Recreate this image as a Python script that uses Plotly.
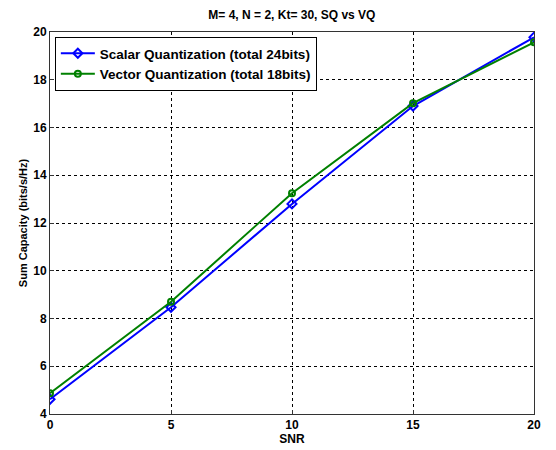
import plotly.graph_objects as go

snr = [0, 5, 10, 15, 20]
sq = [4.62, 8.47, 12.8, 16.9, 19.78]
vq = [4.87, 8.7, 13.25, 17.02, 19.57]
xticks = [0, 5, 10, 15, 20]
yticks = [4, 6, 8, 10, 12, 14, 16, 18, 20]

fam = "Liberation Sans, Arial, sans-serif"
font = dict(family=fam, size=11, color="black")

fig = go.Figure()
fig.add_trace(go.Scatter(x=snr, y=sq, mode="lines+markers",
                         name="<b>Scalar Quantization (total 24bits)</b>",
                         line=dict(color="#0000ff", width=2),
                         marker=dict(symbol="diamond-open", size=7, color="#0000ff", line=dict(width=2))))
fig.add_trace(go.Scatter(x=snr, y=vq, mode="lines+markers",
                         name="<b>Vector Quantization (total 18bits)</b>",
                         line=dict(color="#008000", width=2),
                         marker=dict(symbol="circle-open", size=6, color="#008000", line=dict(width=2))))

axis_common = dict(showline=True, linecolor="#333333", linewidth=1, mirror=True,
                   showgrid=True, gridcolor="black", griddash="3px,3px", gridwidth=1,
                   ticks="inside", ticklen=4, tickcolor="#333333", zeroline=False,
                   automargin=False,
                   tickfont=dict(family=fam, size=12, color="black"))

fig.update_layout(
    width=556, height=450,
    margin=dict(l=50, r=22, t=32, b=36),
    paper_bgcolor="white", plot_bgcolor="white",
    font=font,
    title=dict(text="<b>M= 4, N = 2, Kt= 30, SQ vs VQ</b>", x=0.525, xanchor="center",
               y=0.968, yanchor="middle", font=dict(size=12, family=fam)),
    xaxis=dict(range=[0, 20], tickvals=xticks, ticktext=[f"<b>{v}</b>" for v in xticks],
               title=dict(text="<b>SNR</b>", standoff=0, font=dict(size=12)), **axis_common),
    yaxis=dict(range=[4, 20], tickvals=yticks, ticktext=[f"<b>{v}</b>" for v in yticks],
               title=dict(text="<b>Sum Capacity (bits/s/Hz)</b>", standoff=3, font=dict(size=11)), **axis_common),
    legend=dict(x=0.01, y=0.987, xanchor="left", yanchor="top",
                bgcolor="white", bordercolor="black", borderwidth=1,
                font=dict(size=13.5, family=fam), tracegroupgap=0,
                itemwidth=34),
    showlegend=True,
)

fig.write_html("out.html", config={"displayModeBar": False},
               post_script="document.body.style.margin='0';document.body.style.overflow='hidden';")
